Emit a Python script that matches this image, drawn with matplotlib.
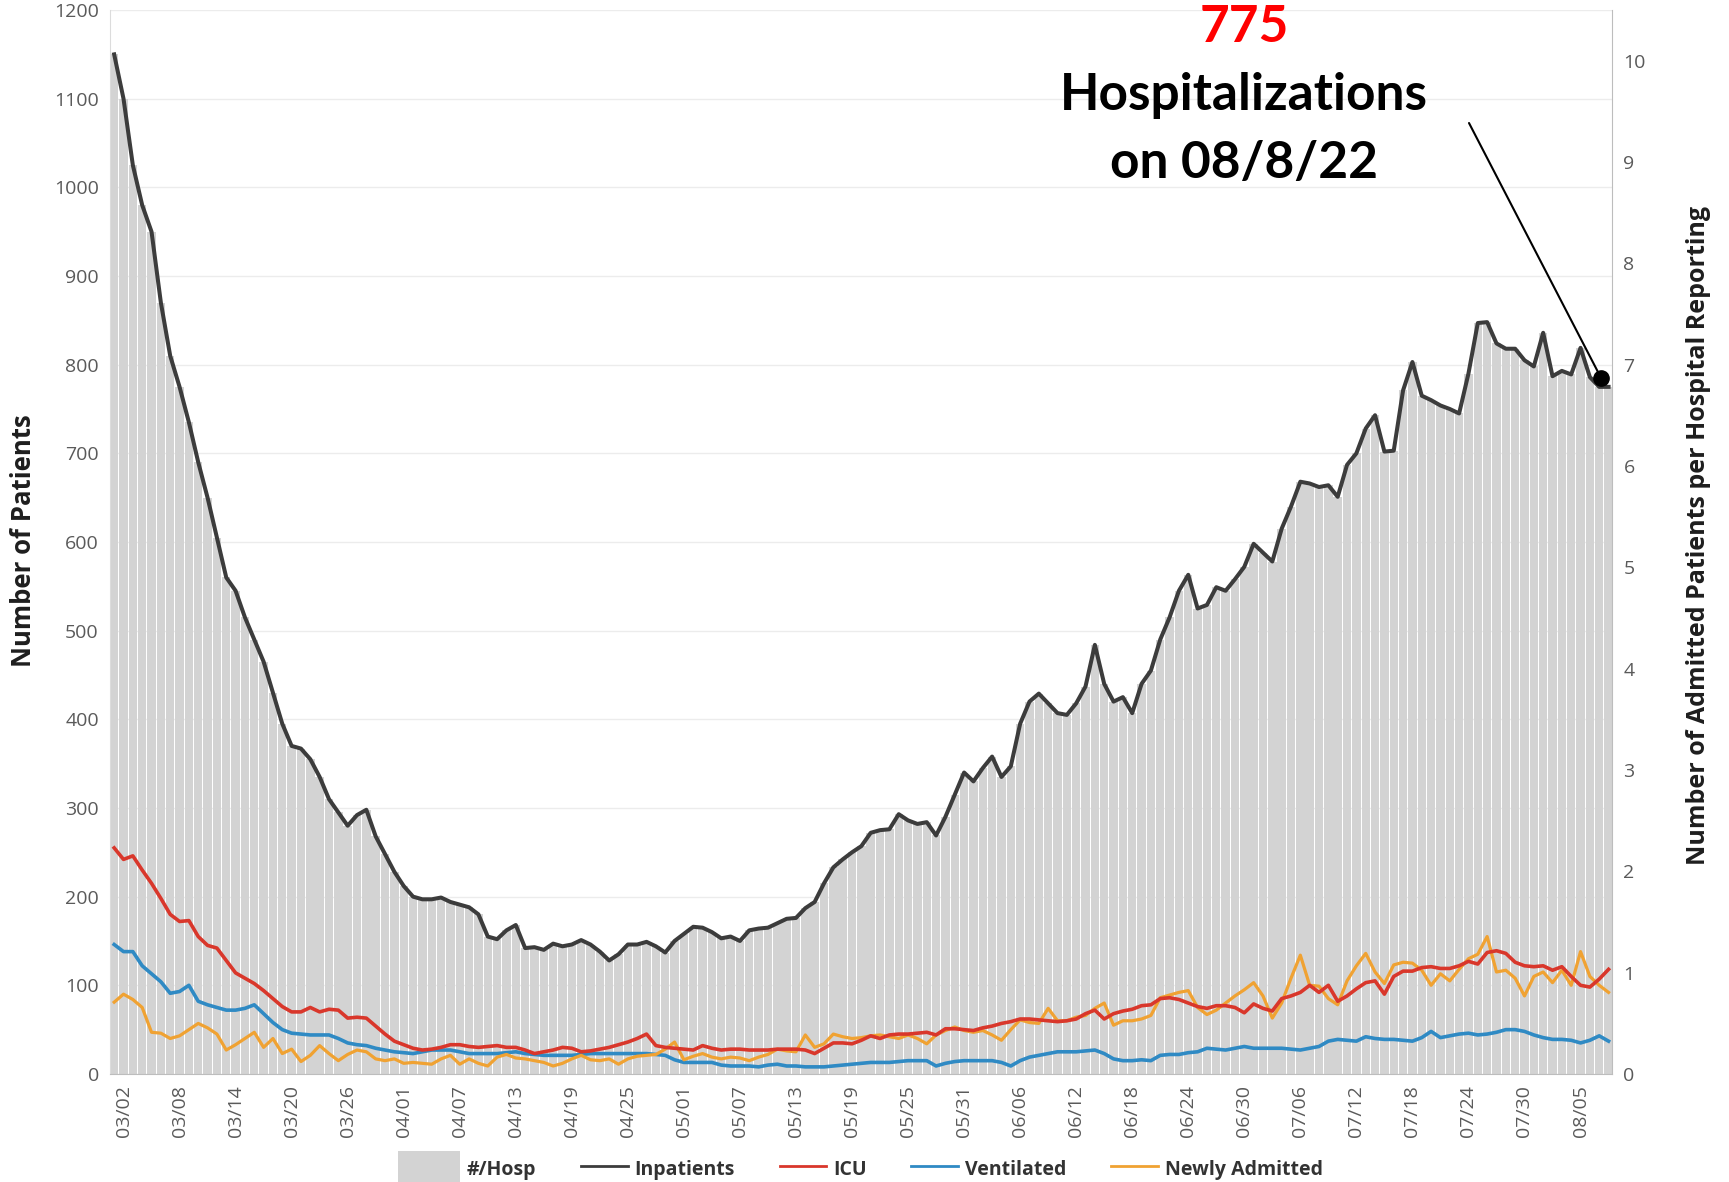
import matplotlib
matplotlib.use("Agg")
import matplotlib.pyplot as plt
from matplotlib.patches import Patch, Rectangle
from matplotlib.lines import Line2D
from matplotlib.legend_handler import HandlerPatch
import datetime as dt

# ---------------- data ----------------
start_date = dt.date(2022, 3, 1)

inpatients = [1150, 1100, 1025, 980, 950, 870, 810, 775, 735, 690,
              650, 605, 560, 545, 515, 490, 465, 430, 395, 370,
              367, 355, 335, 310, 295, 280, 292, 298, 268, 248,
              228, 212, 200, 197, 197, 199, 194, 191, 188, 180,
              155, 152, 162, 168, 142, 143, 140, 147, 144, 146,
              151, 146, 138, 128, 135, 146, 146, 149, 144, 137,
              150, 158, 166, 165, 160, 153, 155, 150, 162, 164,
              165, 170, 175, 176, 187, 194, 215, 233, 242, 250,
              257, 272, 275, 276, 293, 286, 282, 284, 269, 290,
              315, 340, 330, 345, 358, 335, 347, 395, 420, 429,
              418, 407, 405, 418, 437, 484, 440, 420, 425, 407,
              440, 455, 490, 515, 545, 563, 525, 529, 549, 545,
              558, 572, 598, 588, 578, 615, 640, 668, 666, 662,
              664, 651, 687, 700, 728, 743, 702, 703, 771, 803,
              765, 760, 754, 750, 745, 790, 847, 848, 824, 818,
              818, 805, 798, 836, 787, 793, 789, 819, 786, 775,
              775]

icu = [255, 242, 246, 230, 215, 198, 180, 172, 173, 155,
       145, 142, 128, 114, 108, 102, 94, 85, 76, 70,
       70, 75, 70, 73, 72, 63, 64, 63, 54, 45,
       37, 33, 29, 27, 28, 30, 33, 33, 31, 30,
       31, 32, 30, 30, 27, 23, 25, 27, 30, 29,
       25, 26, 28, 30, 33, 36, 40, 45, 32, 30,
       29, 28, 27, 32, 29, 27, 28, 28, 27, 27,
       27, 28, 28, 28, 27, 23, 29, 35, 35, 34,
       38, 43, 40, 44, 45, 45, 46, 47, 44, 51,
       51, 50, 49, 52, 54, 57, 59, 62, 62, 61,
       60, 59, 60, 62, 68, 72, 62, 68, 71, 73,
       77, 78, 85, 86, 84, 80, 76, 74, 77, 77,
       75, 69, 79, 74, 71, 85, 88, 92, 100, 92,
       100, 82, 88, 96, 103, 105, 90, 110, 116, 116,
       120, 121, 119, 119, 122, 127, 124, 137, 139, 136,
       126, 122, 121, 122, 117, 121, 110, 100, 98, 107,
       118]

ventilated = [146, 138, 138, 122, 113, 104, 91, 93, 100, 82,
              78, 75, 72, 72, 74, 78, 68, 58, 50, 46,
              45, 44, 44, 44, 40, 35, 33, 32, 29, 27,
              25, 24, 23, 25, 27, 27, 27, 25, 23, 23,
              23, 23, 24, 25, 23, 22, 21, 21, 21, 21,
              22, 23, 23, 23, 23, 23, 23, 23, 22, 21,
              16, 13, 13, 13, 13, 10, 9, 9, 9, 8,
              10, 11, 9, 9, 8, 8, 8, 9, 10, 11,
              12, 13, 13, 13, 14, 15, 15, 15, 9, 12,
              14, 15, 15, 15, 15, 13, 9, 15, 19, 21,
              23, 25, 25, 25, 26, 27, 23, 17, 15, 15,
              16, 15, 21, 22, 22, 24, 25, 29, 28, 27,
              29, 31, 29, 29, 29, 29, 28, 27, 29, 31,
              37, 39, 38, 37, 42, 40, 39, 39, 38, 37,
              41, 48, 41, 43, 45, 46, 44, 45, 47, 50,
              50, 48, 44, 41, 39, 39, 38, 35, 38, 43,
              37]

newly_admitted = [81, 90, 84, 75, 47, 46, 40, 43, 50, 57,
                  52, 45, 27, 33, 40, 47, 30, 40, 23, 28,
                  14, 21, 32, 23, 15, 22, 27, 25, 17, 15,
                  17, 12, 13, 12, 11, 17, 21, 11, 17, 12,
                  9, 19, 22, 18, 17, 15, 13, 9, 12, 17,
                  21, 16, 15, 17, 11, 17, 20, 21, 22, 28,
                  36, 16, 20, 23, 19, 17, 19, 18, 15, 19,
                  22, 28, 26, 25, 44, 30, 34, 45, 42, 40,
                  41, 43, 44, 42, 40, 44, 40, 34, 44, 49,
                  53, 49, 47, 49, 44, 38, 50, 61, 58, 57,
                  74, 60, 60, 64, 66, 74, 80, 55, 60, 60,
                  62, 66, 86, 89, 92, 94, 75, 67, 72, 80,
                  88, 95, 103, 88, 63, 80, 108, 134, 100, 99,
                  85, 78, 105, 122, 136, 115, 102, 123, 126, 125,
                  117, 100, 113, 105, 118, 130, 135, 155, 115, 117,
                  108, 88, 110, 115, 103, 117, 100, 138, 110, 100,
                  92]

left_ticks = list(range(0, 1201, 100))
right_ticks = list(range(0, 11))
tick_every = 6
first_tick = 1   # 03/02

dates = [start_date + dt.timedelta(days=k) for k in range(len(inpatients))]
date_labels = [d.strftime("%m/%d") for d in dates]
x = list(range(len(inpatients)))

# ---------------- styling ----------------
FONT = "Open Sans"
plt.rcParams["font.family"] = [FONT, "DejaVu Sans"]
TICK_COLOR = "#5a5a5a"
C_BAR = "#d3d3d3"
C_INP = "#3c3c3c"
C_ICU = "#d9372b"
C_VEN = "#2f8ac4"
C_NEW = "#f0a232"

fig = plt.figure(figsize=(17.29, 11.82), dpi=100)
ax = fig.add_axes([0.0636, 0.0914, 0.8689, 0.9001])

ax.bar(x, inpatients, width=0.9, color=C_BAR, zorder=1, linewidth=0)
ax.plot(x, inpatients, color=C_INP, lw=2.9, zorder=5, solid_joinstyle="round")
ax.plot(x, icu, color=C_ICU, lw=2.6, zorder=4, solid_joinstyle="round")
ax.plot(x, ventilated, color=C_VEN, lw=2.6, zorder=3, solid_joinstyle="round")
ax.plot(x, newly_admitted, color=C_NEW, lw=2.3, zorder=3.5, solid_joinstyle="round")

ax.set_xlim(-0.45, len(x) - 0.6)
ax.set_ylim(0, 1200)
ax.set_yticks(left_ticks)
ax.set_yticklabels([str(t) for t in left_ticks])
ax.yaxis.grid(True, color="#ececec", lw=1.0)
ax.set_axisbelow(True)

xt = list(range(first_tick, len(x), tick_every))
ax.set_xticks(xt)
ax.set_xticklabels([date_labels[k] for k in xt], rotation=90)
ax.tick_params(axis="both", length=0, labelsize=14, colors=TICK_COLOR)
ax.tick_params(axis="y", pad=8)
ax.tick_params(axis="x", pad=8)

ax.spines["top"].set_visible(False)
ax.spines["left"].set_color("#dcdcdc")
ax.spines["bottom"].set_color("#bdbdbd")
ax.spines["right"].set_visible(False)

ax2 = ax.twinx()
ax2.set_ylim(0, 10.5)
ax2.set_yticks(right_ticks)
ax2.set_yticklabels([str(t) for t in right_ticks])
ax2.tick_params(axis="y", length=0, labelsize=14, colors=TICK_COLOR, pad=8)
ax2.spines["top"].set_visible(False)
ax2.spines["left"].set_visible(False)
ax2.spines["bottom"].set_visible(False)
ax2.spines["right"].set_color("#bdbdbd")

# axis titles
fig.text(0.0135, 0.543, "Number of Patients", rotation=90, ha="center", va="center",
         fontsize=18.5, fontweight="bold", color="#1e1e1e")
fig.text(0.9825, 0.547, "Number of Admitted Patients per Hospital Reporting", rotation=90,
         ha="center", va="center", fontsize=18, fontweight="bold", color="#1e1e1e")

# annotation
ann_font = ["Lato", "DejaVu Sans"]
fig.text(0.7195, 0.977, str(inpatients[-1]), ha="center", va="center", color="#ff0000",
         fontsize=37, fontweight="bold", family=ann_font)
fig.text(0.7195, 0.919, "Hospitalizations", ha="center", va="center", color="black",
         fontsize=37, fontweight="bold", family=ann_font)
fig.text(0.7195, 0.862, "on 08/8/22", ha="center", va="center", color="black",
         fontsize=37, fontweight="bold", family=ann_font)

last = len(x) - 1
dot_xy = (last - 0.8, inpatients[-1] + 10)
ax.annotate("", xy=dot_xy, xycoords="data",
            xytext=(1469 / 1729, 1 - 123 / 1182), textcoords="figure fraction",
            arrowprops=dict(arrowstyle="-", color="black", lw=1.5, shrinkA=0, shrinkB=0),
            zorder=10)
ax.plot([dot_xy[0]], [dot_xy[1]], "o", color="black", ms=11, zorder=11, clip_on=False)


# legend: wider grey swatch for the bar series
def wide_patch(legend, orig_handle, xdescent, ydescent, width, height, fontsize):
    extra = 11
    return Rectangle((-xdescent - extra, -ydescent - 4), width + extra, height + 8)


handles = [Patch(facecolor=C_BAR, edgecolor="none"),
           Line2D([], [], color=C_INP, lw=2),
           Line2D([], [], color=C_ICU, lw=2),
           Line2D([], [], color=C_VEN, lw=2),
           Line2D([], [], color=C_NEW, lw=2)]
labels = ["#/Hosp", "Inpatients", "ICU", "Ventilated", "Newly Admitted"]
leg = fig.legend(handles, labels, loc="center", bbox_to_anchor=(0.502, 0.011), ncol=5,
                 frameon=False, handlelength=2.4, handleheight=1.6,
                 handletextpad=0.35, columnspacing=2.3,
                 prop={"family": [FONT, "DejaVu Sans"], "weight": "bold", "size": 14},
                 handler_map={Patch: HandlerPatch(patch_func=wide_patch)})
for t in leg.get_texts():
    t.set_color("#333333")

fig.savefig("out.png", dpi=100)
